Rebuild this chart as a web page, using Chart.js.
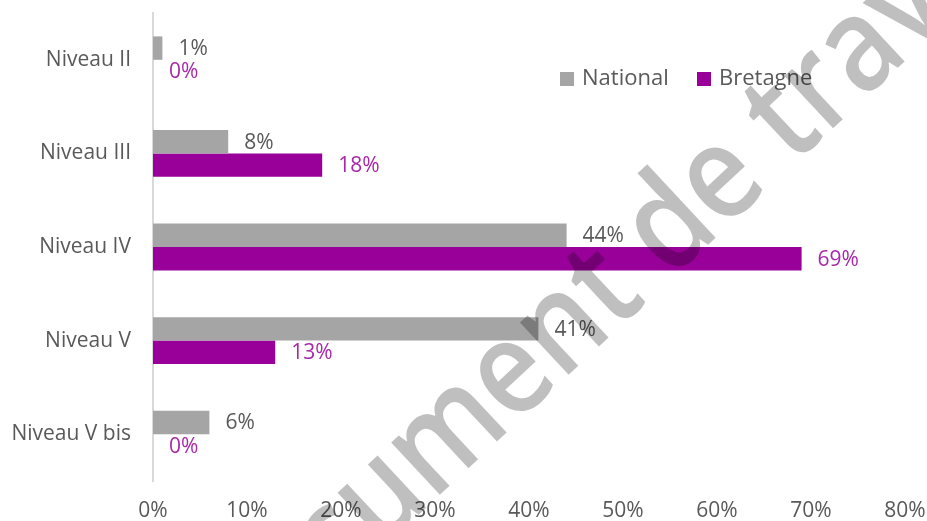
<!DOCTYPE html>
<html>
<head>
<meta charset="utf-8">
<script src="https://cdn.jsdelivr.net/npm/chart.js@4/dist/chart.umd.min.js"></script>
<style>
    html, body { margin: 0; padding: 0; background: #fff; overflow: hidden; }
    #wrap { width: 927px; height: 521px; overflow: hidden; }
</style>
</head>
<body>
<div id="wrap"><canvas id="niveau_chart" width="927" height="528"></canvas></div>
<script>
var niveaux = ["Niveau II", "Niveau III", "Niveau IV", "Niveau V", "Niveau V bis"];
var national = [1, 8, 44, 41, 6];
var bretagne = [0, 18, 69, 13, 0];
var seriesNames = ["National", "Bretagne"];
var xTicks = [0, 10, 20, 30, 40, 50, 60, 70, 80];
var watermark = "Document de travail";

var FONT = "'Open Sans', 'DejaVu Sans', sans-serif";
var GREY = "#a5a5a5", PURPLE = "#990099";

//value labels at the end of every bar
var barLabels = {
    id: 'barLabels',
    afterDatasetsDraw: function (chart) {
        var ctx = chart.ctx;
        ctx.save();
        ctx.font = "21px " + FONT;
        ctx.textAlign = 'left';
        ctx.textBaseline = 'middle';
        chart.data.datasets.forEach(function (ds, d) {
            ctx.fillStyle = d == 0 ? "#595959" : "#a828a8";
            chart.getDatasetMeta(d).data.forEach(function (bar, i) {
                ctx.fillText(ds.data[i] + '%', bar.x + 16, bar.y + 1);
            });
        });
        ctx.restore();
    }
};

//legend inside the plot + watermark on top
var overlay = {
    id: 'overlay',
    afterDraw: function (chart) {
        var ctx = chart.ctx;
        ctx.save();
        ctx.font = "22px " + FONT;
        ctx.textBaseline = 'middle';
        var lx = [560, 697];
        var colors = [GREY, PURPLE];
        for (i = 0; i < seriesNames.length; i++) {
            ctx.fillStyle = colors[i];
            ctx.fillRect(lx[i], 72, 14, 14);
            ctx.fillStyle = "#595959";
            ctx.fillText(seriesNames[i], lx[i] + 22, 79);
        }

        // scale the watermark so "u" -> "a" spans the distance seen
        ctx.font = "600 100px " + FONT;
        var a = ctx.measureText("Doc").width + ctx.measureText("u").width / 2;
        var b = ctx.measureText("Document de tr").width + ctx.measureText("a").width / 2;
        var size = 100 * 657 / (b - a);
        ctx.font = "600 " + size + "px " + FONT;
        var start = ctx.measureText("Doc").width + ctx.measureText("u").width / 2;
        ctx.translate(382, 500);
        ctx.rotate(-43 * Math.PI / 180);
        ctx.scale(1, 1.15); // calibri-like taller letters
        ctx.fillStyle = "rgba(0,0,0,0.25)";
        ctx.textBaseline = 'alphabetic';
        ctx.fillText(watermark, -start, size * 0.27);
        ctx.restore();
    }
};

new Chart(document.getElementById("niveau_chart"), {
    type: 'bar',
    data: {
        labels: niveaux,
        datasets: [
            {
                label: seriesNames[0],
                backgroundColor: GREY,
                data: national
            },
            {
                label: seriesNames[1],
                backgroundColor: PURPLE,
                data: bretagne
            }
        ]
    },
    options: {
        indexAxis: 'y',
        responsive: false,
        animation: false,
        events: [],
        layout: { padding: { top: 13, right: 22, left: 0, bottom: 0 } },
        datasets: { bar: { categoryPercentage: 0.5, barPercentage: 1.0 } },
        plugins: {
            legend: { display: false },
            tooltip: { enabled: false }
        },
        scales: {
            x: {
                min: xTicks[0],
                max: xTicks[xTicks.length - 1],
                afterBuildTicks: function (scale) {
                    scale.ticks = xTicks.map(function (v) { return { value: v }; });
                },
                afterFit: function (scale) {
                    scale.height = 47;
                    scale.paddingLeft = 0;
                    scale.paddingRight = 0;
                },
                grid: { display: false, drawTicks: false },
                border: { display: false },
                ticks: {
                    padding: 17,
                    color: "#595959",
                    font: { family: FONT, size: 21 },
                    callback: function (v) { return v + '%'; }
                }
            },
            y: {
                afterFit: function (scale) {
                    scale.width = 153;
                    scale.paddingTop = 0;
                    scale.paddingBottom = 0;
                },
                grid: { display: false, drawTicks: false },
                border: { display: true, color: "#d9d9d9", width: 2 },
                ticks: {
                    padding: 22,
                    color: "#595959",
                    font: { family: FONT, size: 21 }
                }
            }
        }
    },
    plugins: [barLabels, overlay]
});
</script>
</body>
</html>
